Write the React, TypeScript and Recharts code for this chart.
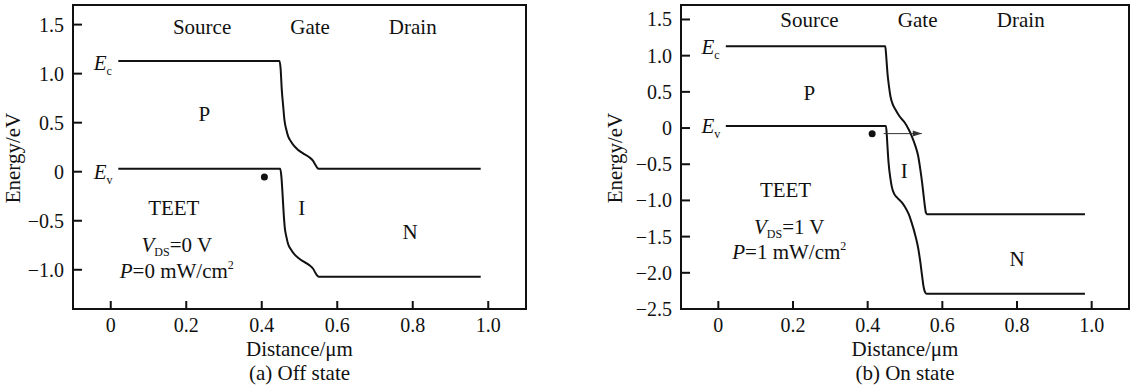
import React from 'react';
import { LineChart, Line, XAxis, YAxis, ReferenceArea, ReferenceDot, Label } from 'recharts';

const FONT = '"Liberation Serif", "Times New Roman", serif';
const INK = '#111';

// ---------- axis ticks ----------
const xTicks = [0, 0.2, 0.4, 0.6, 0.8, 1.0];
const xTickLabels = ['0', '0.2', '0.4', '0.6', '0.8', '1.0'];
const xDomain = [-0.1, 1.1];

const offYTicks = [-1.0, -0.5, 0, 0.5, 1.0, 1.5];
const offYTickLabels = ['\u22121.0', '\u22120.5', '0', '0.5', '1.0', '1.5'];
const offYDomain = [-1.4, 1.7];

const onYTicks = [-2.5, -2.0, -1.5, -1.0, -0.5, 0, 0.5, 1.0, 1.5];
const onYTickLabels = ['\u22122.5', '\u22122.0', '\u22121.5', '\u22121.0', '\u22120.5', '0', '0.5', '1.0', '1.5'];
const onYDomain = [-2.5, 1.7];

// ---------- band edges (x in µm, energy in eV) ----------
const offEc = [
  [0.02, 1.13], [0.447, 1.13], [0.45, 1.05], [0.453, 0.84], [0.457, 0.66], [0.46, 0.53],
  [0.465, 0.43], [0.47, 0.36], [0.477, 0.31], [0.485, 0.265], [0.497, 0.22], [0.51, 0.185],
  [0.525, 0.15], [0.536, 0.11], [0.542, 0.07], [0.546, 0.045], [0.551, 0.03], [0.98, 0.03],
];
const offEv = [
  [0.02, 0.03], [0.449, 0.03], [0.452, -0.05], [0.455, -0.22], [0.458, -0.42], [0.461, -0.57],
  [0.465, -0.66], [0.47, -0.74], [0.477, -0.79], [0.485, -0.835], [0.497, -0.88], [0.51, -0.915],
  [0.525, -0.95], [0.536, -0.99], [0.542, -1.03], [0.546, -1.055], [0.551, -1.07], [0.98, -1.07],
];
const onEc = [
  [0.02, 1.13], [0.447, 1.13], [0.449, 1.04], [0.451, 0.9], [0.453, 0.76], [0.457, 0.58],
  [0.461, 0.44], [0.467, 0.33], [0.474, 0.26], [0.483, 0.18], [0.492, 0.12], [0.5, 0.07],
  [0.51, -0.02], [0.518, -0.11], [0.528, -0.25], [0.535, -0.38], [0.541, -0.57], [0.546, -0.76],
  [0.55, -0.94], [0.553, -1.07], [0.556, -1.17], [0.559, -1.19], [0.982, -1.19],
];
const onEv = [
  [0.02, 0.03], [0.449, 0.03], [0.451, -0.08], [0.453, -0.25], [0.456, -0.48], [0.461, -0.7],
  [0.465, -0.82], [0.471, -0.91], [0.479, -0.96], [0.492, -1.03], [0.5, -1.09], [0.51, -1.19],
  [0.518, -1.31], [0.528, -1.49], [0.535, -1.65], [0.541, -1.85], [0.546, -2.05], [0.55, -2.2],
  [0.554, -2.27], [0.558, -2.29], [0.982, -2.29],
];

// ---------- electron and tunnelling arrow ----------
const offElectron = { x: 0.407, y: -0.054 };
const onElectron = { x: 0.412, y: -0.08 };
const onArrow = [[0.443, -0.077], [0.545, -0.077]];

// ---------- annotations ----------
const offLabels = [
  { x: 0.242, y: 1.48, text: 'Source' },
  { x: 0.528, y: 1.48, text: 'Gate' },
  { x: 0.8, y: 1.48, text: 'Drain' },
  { x: 0.248, y: 0.59, text: 'P' },
  { x: 0.167, y: -0.37, text: 'TEET' },
  { x: 0.506, y: -0.37, text: 'I' },
  { x: 0.793, y: -0.615, text: 'N' },
];
const onLabels = [
  { x: 0.244, y: 1.49, text: 'Source' },
  { x: 0.534, y: 1.49, text: 'Gate' },
  { x: 0.81, y: 1.49, text: 'Drain' },
  { x: 0.244, y: 0.49, text: 'P' },
  { x: 0.18, y: -0.85, text: 'TEET' },
  { x: 0.498, y: -0.59, text: 'I' },
  { x: 0.8, y: -1.81, text: 'N' },
];
const offBandLabels = [
  { x: -0.045, y: 1.11, sub: 'c' },
  { x: -0.045, y: 0.0, sub: 'v' },
];
const onBandLabels = [
  { x: -0.045, y: 1.125, sub: 'c' },
  { x: -0.045, y: 0.03, sub: 'v' },
];
const offCondition = { x: 0.175, vy: -0.745, py: -1.01, vds: '0', power: '0' };
const onCondition = { x: 0.19, vy: -1.37, py: -1.71, vds: '1', power: '1' };

const toPts = (arr) => arr.map(([x, y]) => ({ x, y }));

const lookup = (v, ticks, labels) => {
  const i = ticks.findIndex((t) => Math.abs(t - v) < 1e-9);
  return i >= 0 ? labels[i] : String(v);
};

const YTick = ({ x, y, payload, ticks, labels }) => (
  <g>
    <line x1={x} y1={y} x2={x + 9} y2={y} stroke={INK} strokeWidth={2} />
    <text x={x - 9} y={y + 7} textAnchor="end" fontFamily={FONT} fontSize={20} fill={INK}>
      {lookup(payload.value, ticks, labels)}
    </text>
  </g>
);

const XTick = ({ x, y, payload }) => (
  <g>
    <line x1={x} y1={y} x2={x} y2={y - 8} stroke={INK} strokeWidth={2} />
    <text x={x} y={y + 23} textAnchor="middle" fontFamily={FONT} fontSize={20} fill={INK}>
      {lookup(payload.value, xTicks, xTickLabels)}
    </text>
  </g>
);

const XTitle = ({ viewBox, title, caption }) => {
  const vb = viewBox || { x: 0, y: 0, width: 0 };
  const cx = vb.x + vb.width / 2;
  return (
    <g>
      <text x={cx} y={vb.y + 47} textAnchor="middle" fontFamily={FONT} fontSize={21} fill={INK}>{title}</text>
      <text x={cx} y={vb.y + 71} textAnchor="middle" fontFamily={FONT} fontSize={21} fill={INK}>{caption}</text>
    </g>
  );
};

const YTitle = ({ viewBox, title, gap }) => {
  const vb = viewBox || { x: 0, y: 0, width: 0, height: 0 };
  const bx = vb.x + vb.width - gap;
  const cy = vb.y + vb.height / 2 + 1;
  return (
    <text x={bx} y={cy} transform={`rotate(-90 ${bx} ${cy})`} textAnchor="middle"
      fontFamily={FONT} fontSize={21} fill={INK}>{title}</text>
  );
};

const PlainText = (text) => (props) => (
  <text x={props.cx} y={props.cy + 7} textAnchor="middle" fontFamily={FONT} fontSize={21} fill={INK}>{text}</text>
);

const BandText = (sub) => (props) => (
  <text x={props.cx} y={props.cy + 7} textAnchor="start" fontFamily={FONT} fontSize={21} fill={INK}>
    <tspan fontStyle="italic">E</tspan>
    <tspan fontSize={12} dy={5}>{sub}</tspan>
  </text>
);

const VdsText = (val) => (props) => (
  <text x={props.cx} y={props.cy + 7} textAnchor="middle" fontFamily={FONT} fontSize={21} fill={INK}>
    <tspan fontStyle="italic">V</tspan>
    <tspan fontSize={12} dy={4}>DS</tspan>
    <tspan dy={-4}>{`=${val} V`}</tspan>
  </text>
);

const PowerText = (val) => (props) => (
  <text x={props.cx} y={props.cy + 7} textAnchor="middle" fontFamily={FONT} fontSize={21} fill={INK}>
    <tspan fontStyle="italic">P</tspan>
    <tspan>{`=${val} mW/cm`}</tspan>
    <tspan fontSize={12} dy={-9}>2</tspan>
  </text>
);

const ArrowDot = (props) => {
  const { cx, cy, index } = props;
  if (index !== 1) return <g key={`a${index}`} />;
  return <polygon key={`a${index}`} points={`${cx},${cy} ${cx - 9},${cy - 3} ${cx - 9},${cy + 3}`} fill="#333" />;
};

const Panel = ({ width, margin, yDomain, yTicks, yTickLabels, ec, ev, electron, arrow, labels, bandLabels, cond, caption, yGap }) => (
  <LineChart width={width} height={392} margin={margin}>
    <XAxis
      type="number" dataKey="x" domain={xDomain} ticks={xTicks} interval={0}
      allowDataOverflow axisLine={false} tickLine={false} tickSize={0} tickMargin={0} height={30}
      tick={(p) => <XTick {...p} />}
    >
      <Label content={(p) => <XTitle {...p} title={'Distance/\u03bcm'} caption={caption} />} />
    </XAxis>
    <YAxis
      type="number" dataKey="y" domain={yDomain} ticks={yTicks} interval={0}
      allowDataOverflow axisLine={false} tickLine={false} tickSize={0} tickMargin={0} width={73}
      tick={(p) => <YTick {...p} ticks={yTicks} labels={yTickLabels} />}
    >
      <Label content={(p) => <YTitle {...p} title="Energy/eV" gap={yGap} />} />
    </YAxis>
    <ReferenceArea x1={xDomain[0]} x2={xDomain[1]} y1={yDomain[0]} y2={yDomain[1]}
      fill="none" stroke={INK} strokeWidth={2} ifOverflow="visible" />
    <Line data={toPts(ec)} dataKey="y" type="monotone" stroke={INK} strokeWidth={2} dot={false} isAnimationActive={false} />
    <Line data={toPts(ev)} dataKey="y" type="monotone" stroke={INK} strokeWidth={2} dot={false} isAnimationActive={false} />
    {arrow && (
      <Line data={toPts(arrow)} dataKey="y" type="linear" stroke="#333" strokeWidth={1} dot={ArrowDot} isAnimationActive={false} />
    )}
    <ReferenceDot x={electron.x} y={electron.y} r={3.5} fill={INK} stroke="none" />
    {labels.map((l, i) => (
      <ReferenceDot key={`l${i}`} x={l.x} y={l.y} r={0} shape={PlainText(l.text)} />
    ))}
    {bandLabels.map((l, i) => (
      <ReferenceDot key={`b${i}`} x={l.x} y={l.y} r={0} shape={BandText(l.sub)} />
    ))}
    <ReferenceDot x={cond.x} y={cond.vy} r={0} shape={VdsText(cond.vds)} />
    <ReferenceDot x={cond.x} y={cond.py} r={0} shape={PowerText(cond.power)} />
  </LineChart>
);

export default function App() {
  return (
    <div style={{ position: 'absolute', left: 0, top: 0, width: 1142, height: 392, background: '#fff' }}>
      <div style={{ position: 'absolute', left: 0, top: 0 }}>
        <Panel
          width={560}
          margin={{ top: 5, right: 34, bottom: 53, left: 0 }}
          yDomain={offYDomain} yTicks={offYTicks} yTickLabels={offYTickLabels}
          ec={offEc} ev={offEv} electron={offElectron} arrow={null}
          labels={offLabels} bandLabels={offBandLabels} cond={offCondition}
          caption="(a) Off state" yGap={53}
        />
      </div>
      <div style={{ position: 'absolute', left: 580, top: 0 }}>
        <Panel
          width={562}
          margin={{ top: 5, right: 13, bottom: 53, left: 28 }}
          yDomain={onYDomain} yTicks={onYTicks} yTickLabels={onYTickLabels}
          ec={onEc} ev={onEv} electron={onElectron} arrow={onArrow}
          labels={onLabels} bandLabels={onBandLabels} cond={onCondition}
          caption="(b) On state" yGap={59}
        />
      </div>
    </div>
  );
}
